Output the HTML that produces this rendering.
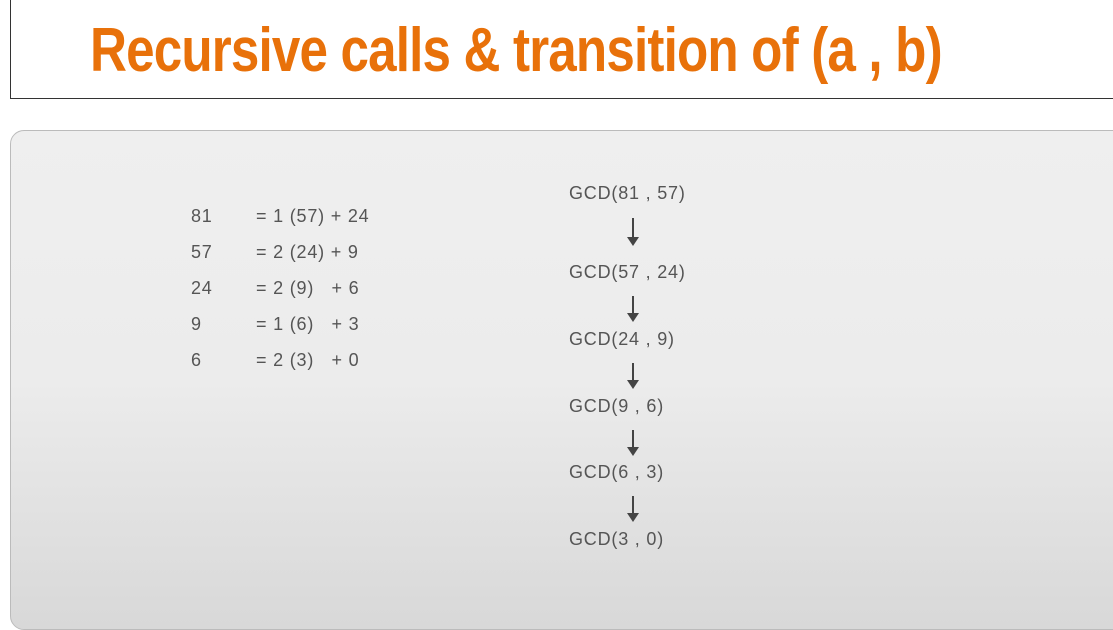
<!DOCTYPE html>
<html><head><meta charset="utf-8"><style>
body{margin:0;width:1113px;height:597px;overflow:hidden;background:#fff;font-family:"Liberation Sans",sans-serif;position:relative}
#title-box{position:absolute;left:10px;top:-2px;width:1120px;height:101px;border:1px solid #333;background:#fff;box-sizing:border-box}
#title{position:absolute;left:90px;top:16px;font-family:"Liberation Sans",sans-serif;font-weight:bold;font-size:62px;color:#e8710a;white-space:nowrap;letter-spacing:-1px;line-height:70px;transform:scaleX(0.825);transform-origin:0 0}
#panel{position:absolute;left:10px;top:130px;width:1130px;height:500px;border:1px solid #bbb;border-radius:14px;background:linear-gradient(#efefef 0%,#ececec 50%,#d8d8d8 100%);box-sizing:border-box}
.t{position:absolute;color:#555;font-size:18px;letter-spacing:0.8px;white-space:nowrap;line-height:20px}
.g{position:absolute;color:#555;font-size:18px;letter-spacing:0.8px;white-space:nowrap;line-height:20px;left:569px}
.a{position:absolute;left:632px;width:2px;background:#444}
.a:after{content:"";position:absolute;left:-5px;bottom:-8px;border-left:6px solid transparent;border-right:6px solid transparent;border-top:9px solid #444}
</style></head><body>
<div id="title-box"></div>
<div id="title">Recursive calls &amp; transition of (a , b)</div>
<div id="panel"></div>
<div class="t" style="left:191px;top:206px">81</div>
<div class="t" style="left:256px;top:206px">= 1 (57) + 24</div>
<div class="t" style="left:191px;top:242px">57</div>
<div class="t" style="left:256px;top:242px">= 2 (24) + 9</div>
<div class="t" style="left:191px;top:278px">24</div>
<div class="t" style="left:256px;top:278px">= 2 (9) &nbsp; + 6</div>
<div class="t" style="left:191px;top:314px">9</div>
<div class="t" style="left:256px;top:314px">= 1 (6) &nbsp; + 3</div>
<div class="t" style="left:191px;top:350px">6</div>
<div class="t" style="left:256px;top:350px">= 2 (3) &nbsp; + 0</div>
<div class="g" style="top:183px">GCD(81 , 57)</div>
<div class="a" style="top:218px;height:20px"></div>
<div class="g" style="top:262px">GCD(57 , 24)</div>
<div class="a" style="top:296px;height:18px"></div>
<div class="g" style="top:329px">GCD(24 , 9)</div>
<div class="a" style="top:363px;height:18px"></div>
<div class="g" style="top:396px">GCD(9 , 6)</div>
<div class="a" style="top:430px;height:18px"></div>
<div class="g" style="top:462px">GCD(6 , 3)</div>
<div class="a" style="top:496px;height:18px"></div>
<div class="g" style="top:529px">GCD(3 , 0)</div>
</body></html>
